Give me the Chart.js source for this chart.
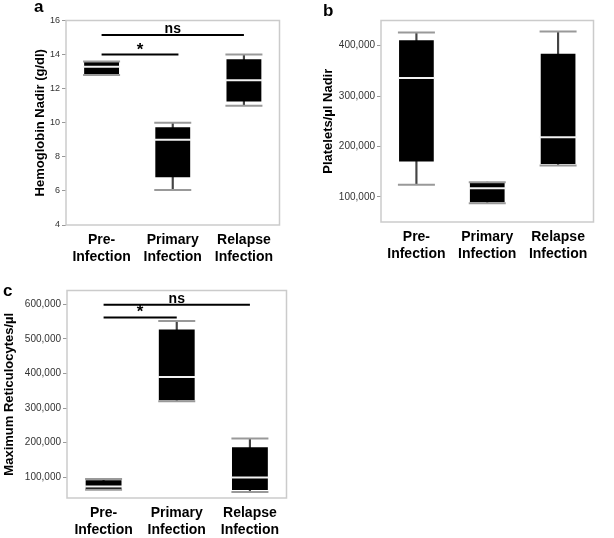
<!DOCTYPE html>
<html>
<head>
<meta charset="utf-8">
<script src="https://cdn.jsdelivr.net/npm/chart.js@4.4.0/dist/chart.umd.min.js"></script>
<style>
  html, body { margin: 0; padding: 0; background: #fff; }
  #wrap { position: relative; width: 614px; height: 538px; }
  canvas { position: absolute; }
</style>
</head>
<body>
<div id="wrap">
  <canvas id="chartA" width="300" height="270" style="left:0;top:0"></canvas>
  <canvas id="chartB" width="314" height="270" style="left:300px;top:0"></canvas>
  <canvas id="chartC" width="307" height="268" style="left:0;top:270px"></canvas>
</div>
<script>
const FONT = "'Liberation Sans', Arial, sans-serif";

const categories = [["Pre-", "Infection"], ["Primary", "Infection"], ["Relapse", "Infection"]];

// a - hemoglobin nadir (g/dl)
const hbMin = [12.8, 6.05, 11.0];
const hbQ1 = [12.8, 6.8, 11.25];
const hbMedian = [13.28, 9.0, 12.5];
const hbQ3 = [13.6, 9.73, 13.73];
const hbMax = [13.6, 10.0, 14.0];
const hbTicks = [4, 6, 8, 10, 12, 14, 16];
const hbBrackets = [
  { from: 0, to: 2, value: 15.15, label: "ns" },
  { from: 0, to: 1.08, value: 14.0, label: "*" }
];

// b - platelets/µl nadir
const pltMin = [124000, 87000, 162000];
const pltQ1 = [170000, 89000, 165000];
const pltMedian = [336000, 117000, 218000];
const pltQ3 = [411000, 128000, 384000];
const pltMax = [426000, 129000, 428000];
const pltTicks = [100000, 200000, 300000, 400000];

// c - maximum reticulocytes/µl
const retMin = [64000, 320000, 57000];
const retQ1 = [66000, 323000, 63000];
const retMedian = [73000, 390000, 99000];
const retQ3 = [91000, 527000, 187000];
const retMax = [95000, 552000, 212000];
const retTicks = [100000, 200000, 300000, 400000, 500000, 600000];
const retBrackets = [
  { from: 0, to: 2, value: 599000, label: "ns" },
  { from: 0, to: 1, value: 562000, label: "*" }
];

// frame, significance bars and panel letter
const extras = {
  id: "extras",
  beforeDatasetsDraw(chart) {
    const { ctx, chartArea: a } = chart;
    ctx.save();
    ctx.strokeStyle = "#cbcbcb";
    ctx.lineWidth = 1.5;
    ctx.strokeRect(a.left, a.top, a.width, a.height);
    ctx.restore();
  },
  afterDatasetsDraw(chart, args, opts) {
    const { ctx, scales: { x, y } } = chart;
    ctx.save();
    ctx.fillStyle = "#000";
    ctx.strokeStyle = "#000";
    ctx.lineWidth = 2;
    ctx.textAlign = "center";
    ctx.textBaseline = "alphabetic";
    (opts.brackets || []).forEach(b => {
      const x1 = x.getPixelForValue(b.from);
      const x2 = x.getPixelForValue(b.to);
      const py = y.getPixelForValue(b.value);
      ctx.beginPath();
      ctx.moveTo(x1, py);
      ctx.lineTo(x2, py);
      ctx.stroke();
      ctx.font = b.label === "*" ? "bold 17px " + FONT : "bold 14px " + FONT;
      ctx.fillText(b.label, (x1 + x2) / 2, py - (b.label === "*" ? 0 : 2));
    });
    ctx.textAlign = "left";
    ctx.font = "bold 17px " + FONT;
    ctx.fillText(opts.letter.text, opts.letter.x, opts.letter.y);
    ctx.restore();
  }
};

function boxChart(id, p) {
  const canvas = document.getElementById(id);
  const W = canvas.width, H = canvas.height;
  const [left, top, right, bottom] = p.area;
  const pt = { type: "line", showLine: false, pointStyle: "line", pointRadius: 18.5, pointHoverRadius: 18.5, pointBorderWidth: 2 };
  return new Chart(canvas, {
    type: "bar",
    data: {
      labels: categories,
      datasets: [
        { data: p.min.map((v, i) => [v, p.max[i]]), backgroundColor: "#444", barThickness: 1.5, grouped: false, order: 3 },
        { data: p.q1.map((v, i) => [v, p.q3[i]]), backgroundColor: "#000", barPercentage: 0.49, categoryPercentage: 1, grouped: false, order: 2 },
        { ...pt, data: p.max, pointBorderColor: "#999", order: 1 },
        { ...pt, data: p.min, pointBorderColor: "#999", order: 1 },
        { ...pt, data: p.median, pointBorderColor: "#f2f2f2", order: 0 }
      ]
    },
    options: {
      responsive: false,
      animation: false,
      events: [],
      layout: { padding: { left: 0, top: top, right: W - right, bottom: 0 } },
      plugins: {
        legend: { display: false },
        tooltip: { enabled: false },
        extras: { brackets: p.brackets, letter: p.letter }
      },
      scales: {
        x: {
          grid: { display: false, drawTicks: false },
          border: { display: false },
          ticks: {
            color: "#000",
            font: { family: FONT, size: 14, weight: "bold", lineHeight: 1.2 },
            padding: 7,
            maxRotation: 0,
            autoSkip: false
          },
          afterFit: s => { s.height = H - bottom; }
        },
        y: {
          min: p.range[0],
          max: p.range[1],
          afterBuildTicks: s => { s.ticks = p.ticks.map(v => ({ value: v })); },
          grid: { drawOnChartArea: false, drawTicks: true, tickLength: 4, color: "#999" },
          border: { display: false },
          ticks: { color: "#333", font: { family: FONT, size: p.tickSize }, padding: 2 },
          title: {
            display: true,
            text: p.title,
            color: "#000",
            font: { family: FONT, size: 13, weight: "bold" },
            padding: { top: p.titlePad, bottom: 0 }
          },
          afterFit: s => { s.width = left; }
        }
      }
    },
    plugins: [extras]
  });
}

boxChart("chartA", {
  min: hbMin, q1: hbQ1, median: hbMedian, q3: hbQ3, max: hbMax,
  ticks: hbTicks, range: [4, 16], brackets: hbBrackets,
  title: "Hemoglobin Nadir (g/dl)", titlePad: 33, tickSize: 9,
  area: [66, 10, 295, 225], letter: { text: "a", x: 34, y: 12 }
});

boxChart("chartB", {
  min: pltMin, q1: pltQ1, median: pltMedian, q3: pltQ3, max: pltMax,
  ticks: pltTicks, range: [50000, 450000], brackets: [],
  title: "Platelets/µl Nadir", titlePad: 21, tickSize: 10,
  area: [81, 8, 311, 222], letter: { text: "b", x: 23, y: 16 }
});

boxChart("chartC", {
  min: retMin, q1: retQ1, median: retMedian, q3: retQ3, max: retMax,
  ticks: retTicks, range: [40000, 640000], brackets: retBrackets,
  title: "Maximum Reticulocytes/µl", titlePad: 1.5, tickSize: 10,
  area: [67, 14, 297, 228], letter: { text: "c", x: 3, y: 26 }
});
</script>
</body>
</html>
